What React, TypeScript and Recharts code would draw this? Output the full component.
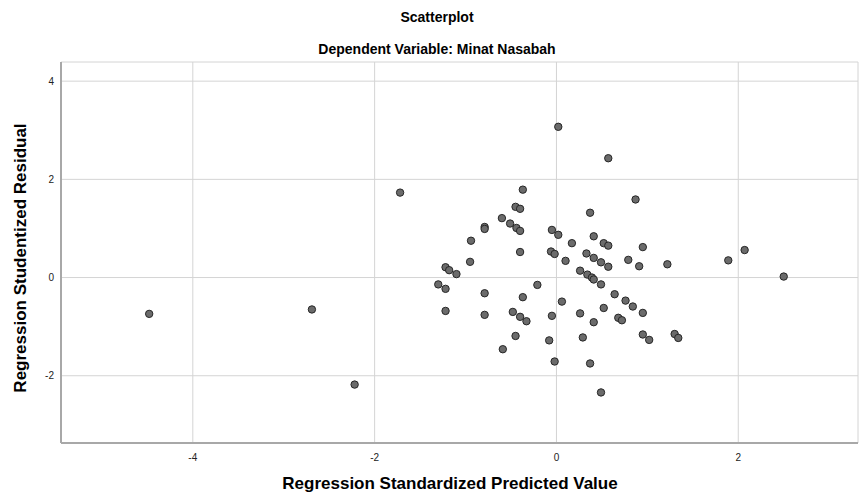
import React from "react";
import { ScatterChart, Scatter, XAxis, YAxis, CartesianGrid } from "recharts";

const predicted = [
  -4.48, -2.69, -2.22, -1.72, -1.30, -1.22, -1.22, -1.22, -1.18, -1.10,
  -0.95, -0.94, -0.79, -0.79, -0.79, -0.79, -0.60, -0.59, -0.51, -0.48,
  -0.45, -0.45, -0.44, -0.40, -0.40, -0.40, -0.40, -0.37, -0.37, -0.33,
  -0.21, -0.08, -0.06, -0.05, -0.05, -0.02, -0.02, 0.02, 0.02, 0.06,
  0.10, 0.17, 0.26, 0.26, 0.29, 0.33, 0.34, 0.37, 0.37, 0.39,
  0.41, 0.41, 0.41, 0.41, 0.49, 0.49, 0.49, 0.52, 0.52, 0.57,
  0.57, 0.57, 0.64, 0.68, 0.72, 0.76, 0.79, 0.84, 0.87, 0.91,
  0.95, 0.95, 0.95, 1.02, 1.22, 1.30, 1.34, 1.89, 2.07, 2.50,
];
const residual = [
  -0.74, -0.65, -2.18, 1.73, -0.14, -0.23, -0.68, 0.21, 0.15, 0.07,
  0.32, 0.75, 1.03, 0.99, -0.32, -0.76, 1.21, -1.46, 1.10, -0.70,
  1.44, -1.19, 1.01, 1.40, 0.95, 0.52, -0.80, 1.79, -0.40, -0.89,
  -0.15, -1.28, 0.53, 0.97, -0.78, 0.48, -1.71, 3.07, 0.87, -0.49,
  0.34, 0.70, 0.14, -0.73, -1.22, 0.49, 0.06, 1.32, -1.75, 0.00,
  0.84, 0.40, -0.04, -0.91, 0.31, -0.14, -2.34, 0.70, -0.62, 2.43,
  0.65, 0.22, -0.34, -0.82, -0.87, -0.47, 0.36, -0.59, 1.59, 0.23,
  0.62, -0.72, -1.16, -1.27, 0.27, -1.15, -1.23, 0.35, 0.56, 0.02,
];
const xTicks = [-4, -2, 0, 2];
const yTicks = [-2, 0, 2, 4];

const points = predicted.map((x, i) => ({ x, y: residual[i] }));

const FONT = "'Liberation Sans', Arial, sans-serif";

const Dot = (props: any) => (
  <circle cx={props.cx} cy={props.cy} r={3.7} fill="#6b6b6b" stroke="#262626" strokeWidth={1} />
);

const titleStyle: React.CSSProperties = {
  position: "absolute",
  fontFamily: FONT,
  fontWeight: "bold",
  fontSize: 14,
  lineHeight: "18px",
  height: 18,
  width: 500,
  textAlign: "center",
  color: "#000",
  whiteSpace: "nowrap",
};

const axisTitleStyle: React.CSSProperties = {
  ...titleStyle,
  fontSize: 17,
  lineHeight: "20px",
  height: 20,
};

export default function App() {
  return (
    <div style={{ position: "absolute", left: 0, top: 0, width: 859, height: 494, background: "#fff" }}>
      <ScatterChart
        width={859}
        height={494}
        margin={{ top: 62, right: 1, bottom: 0, left: 0 }}
      >
        <CartesianGrid stroke="#d4d4d4" strokeWidth={1} />
        <XAxis
          type="number"
          dataKey="x"
          domain={[-5.45, 3.317]}
          ticks={xTicks}
          allowDataOverflow
          height={51}
          tickLine={false}
          tickSize={5}
          tickMargin={6}
          axisLine={{ stroke: "#a8a8a8", strokeWidth: 2 }}
          tick={{ fontSize: 10, fill: "#222", fontFamily: FONT }}
        />
        <YAxis
          type="number"
          dataKey="y"
          domain={[-3.37, 4.39]}
          ticks={yTicks}
          allowDataOverflow
          width={61}
          tickLine={false}
          tickSize={3}
          tickMargin={4}
          axisLine={{ stroke: "#a8a8a8", strokeWidth: 2 }}
          tick={{ fontSize: 10, fill: "#222", fontFamily: FONT }}
        />
        <Scatter data={points} shape={Dot} isAnimationActive={false} />
      </ScatterChart>
      <div style={{ ...titleStyle, left: 437 - 250, top: 8 }}>Scatterplot</div>
      <div style={{ ...titleStyle, left: 437 - 250, top: 40 }}>Dependent Variable: Minat Nasabah</div>
      <div style={{ ...axisTitleStyle, left: 450 - 250, top: 474 }}>Regression Standardized Predicted Value</div>
      <div
        style={{
          ...axisTitleStyle,
          left: 21 - 250,
          top: 258 - 10,
          transform: "rotate(-90deg)",
          transformOrigin: "center center",
        }}
      >
        Regression Studentized Residual
      </div>
    </div>
  );
}
